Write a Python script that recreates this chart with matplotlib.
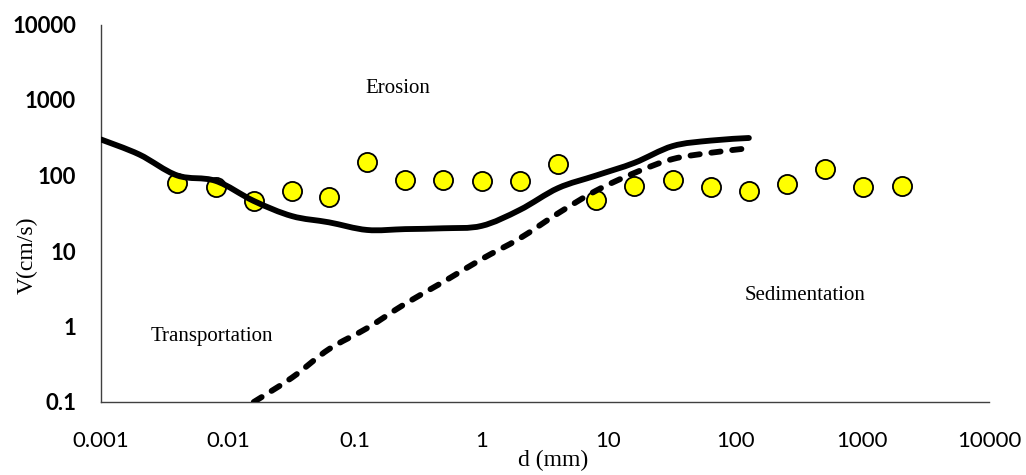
import matplotlib
matplotlib.use("Agg")
import matplotlib.pyplot as plt
import numpy as np
from matplotlib.path import Path
from matplotlib.patches import PathPatch

# Scatter data (grain size d in mm, velocity V in cm/s)
pts_d = [0.004, 0.008, 0.016, 0.032, 0.0625, 0.125, 0.25, 0.5, 1, 2, 4, 8,
         16, 32, 64, 128, 256, 512, 1024, 2048]
pts_v = [80, 70, 46, 62, 52, 150, 87, 87, 85, 85, 142, 48,
         73, 87, 70, 62, 77, 123, 70, 73]

# Erosion curve (solid)
ero_d = [0.001, 0.002, 0.004, 0.008, 0.016, 0.032, 0.0625, 0.125, 0.25, 0.5,
         1, 2, 4, 8, 16, 32, 64, 128]
ero_v = [300, 190, 100, 85, 46, 29, 24, 19, 19.5, 20,
         21.5, 35, 68, 100, 147, 245, 290, 314]

# Deposition curve (dashed)
dep_d = [0.016, 0.032, 0.0625, 0.125, 0.25, 0.5, 1, 2, 4, 8, 16, 32, 64, 128]
dep_v = [0.1, 0.21, 0.5, 0.95, 2.0, 3.9, 7.8, 14.7, 31.5, 63, 108, 165, 200, 230]

x_ticks = [0.001, 0.01, 0.1, 1, 10, 100, 1000, 10000]
x_labels = ["0.001", "0.01", "0.1", "1", "10", "100", "1000", "10000"]
y_ticks = [0.1, 1, 10, 100, 1000, 10000]
y_labels = ["0.1", "1", "10", "100", "1000", "10000"]


def smooth_path(xs, ys):
    """Excel-style smoothed line: Bezier segments through the data points
    (control points built in log space, since both axes are logarithmic)."""
    p = np.column_stack([np.log10(xs), np.log10(ys)])
    n = len(p)
    verts = [p[0]]
    codes = [Path.MOVETO]
    for i in range(n - 1):
        p0 = p[i - 1] if i > 0 else p[i]
        p1, p2 = p[i], p[i + 1]
        p3 = p[i + 2] if i + 2 < n else p[i + 1]
        c1 = p1 + (p2 - p0) / 6.0
        c2 = p2 - (p3 - p1) / 6.0
        verts += [c1, c2, p2]
        codes += [Path.CURVE4] * 3
    verts = 10 ** np.array(verts)
    return Path(verts, codes)


fig = plt.figure(figsize=(10.26, 4.75), dpi=100)
ax = fig.add_axes([101/1026, 1-402/475, (989-101)/1026, (402-24.5)/475])
ax.set_xscale("log")
ax.set_yscale("log")
ax.set_xlim(0.001, 10000)
ax.set_ylim(0.1, 10000)

ax.scatter(pts_d, pts_v, s=190, facecolor="#FFFF00", edgecolor="black",
           linewidth=1.3, zorder=2, clip_on=False)

ax.add_patch(PathPatch(smooth_path(ero_d, ero_v), fill=False, edgecolor="black",
                       lw=4.2, capstyle="round", joinstyle="round", zorder=3))
ax.add_patch(PathPatch(smooth_path(dep_d, dep_v), fill=False, edgecolor="black",
                       lw=4.2, linestyle=(0, (1.6, 2.0)), capstyle="round",
                       joinstyle="round", zorder=3))

ax.set_xticks(x_ticks)
ax.set_xticklabels(x_labels, family="Lato", fontsize=16)
ax.set_yticks(y_ticks)
ax.set_yticklabels(y_labels, family="Lato", fontweight="bold", fontsize=16)
ax.minorticks_off()
ax.tick_params(axis="x", length=0, pad=21)
ax.tick_params(axis="y", length=0, pad=18)

for s in ["top", "right"]:
    ax.spines[s].set_visible(False)
for s in ["left", "bottom"]:
    ax.spines[s].set_color("#404040")
    ax.spines[s].set_linewidth(1.0)

serif = "Liberation Serif"
ax.text(0.22, 1440, "Erosion", family=serif, fontsize=15, ha="center", va="center")
ax.text(0.0075, 0.74, "Transportation", family=serif, fontsize=15, ha="center", va="center")
ax.text(355, 2.6, "Sedimentation", family=serif, fontsize=15, ha="center", va="center")

fig.text(553/1026, 1-460/475, "d (mm)", family=serif, fontsize=17, ha="center", va="center")
fig.text(27/1026, 1-255/475, "V(cm/s)", family=serif, fontsize=17, ha="center",
         va="center", rotation=90)

fig.savefig("out.png", dpi=100)
